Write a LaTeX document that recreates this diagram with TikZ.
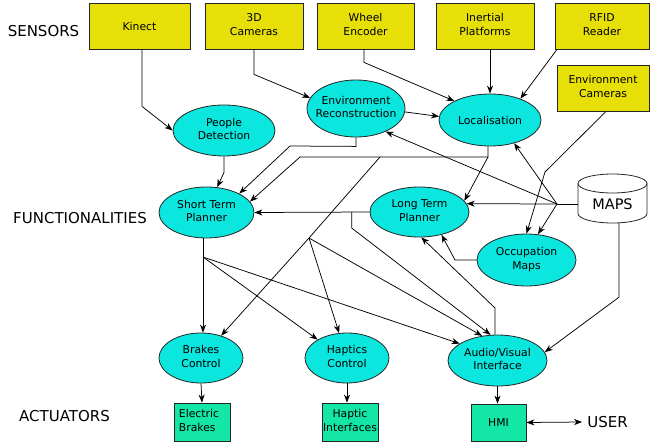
\documentclass[tikz,border=0pt]{standalone}
\usepackage{fontspec}
\setmainfont{DejaVu Sans}
\usetikzlibrary{arrows.meta,calc,shapes.geometric}
\definecolor{sensY}{RGB}{231,224,8}
\definecolor{funC}{RGB}{11,230,222}
\definecolor{actG}{RGB}{20,230,165}
\newcommand\twoline[1]{\makebox[0pt]{\begin{tabular}{@{}c@{}}#1\end{tabular}}}
\newcommand\nodefnt{\fontsize{10.8}{13.5}\selectfont}
\newcommand\lblfnt{\fontsize{15}{18}\selectfont}
\tikzset{
  sensor/.style={draw=black!85, line width=0.8pt, fill=sensY, minimum height=46pt, inner sep=0pt, font=\nodefnt},
  ell/.style={ellipse, draw=black!85, line width=0.8pt, fill=funC, inner sep=0pt, font=\nodefnt},
  act/.style={draw=black!85, line width=0.8pt, fill=actG, minimum width=56pt, minimum height=38pt, inner sep=0pt, font=\nodefnt},
  lbl/.style={font=\lblfnt, inner sep=0pt},
  conn/.style={line width=0.75pt, black},
  arr/.style={conn, -{Stealth[length=8pt,width=6pt,inset=2.5pt]}},
  arrs/.style={conn, {Stealth[length=8pt,width=6pt,inset=2.5pt]}-{Stealth[length=8pt,width=6pt,inset=2.5pt]}}
}
\begin{document}
\begin{tikzpicture}[x=1pt,y=-1pt]
\useasboundingbox (0,0) rectangle (650,444);
% labels
\node[lbl] (lsens) at (43.5,31) {SENSORS};
\node[lbl] (lfunc) at (80,218) {FUNCTIONALITIES};
\node[lbl] (lact) at (64.5,416) {ACTUATORS};
\node[lbl, inner xsep=5pt] (user) at (607.5,422) {USER};
% sensors
\node[sensor, minimum width=101pt] (kin) at (139.5,26) {Kinect};
\node[sensor, minimum width=98pt] (cam3) at (254,26) {\twoline{3D\\Cameras}};
\node[sensor, minimum width=97pt] (whe) at (365.5,26) {\twoline{Wheel\\Encoder}};
\node[sensor, minimum width=98pt] (ine) at (485,26) {\twoline{Inertial\\Platforms}};
\node[sensor, minimum width=94pt] (rfid) at (602,26) {\twoline{RFID\\Reader}};
\node[sensor, minimum width=92pt] (envc) at (603,88) {\twoline{Environment\\Cameras}};
% functionalities
\node[ell, minimum width=102pt, minimum height=51pt] (pd) at (224,130.5) {\twoline{People\\Detection}};
\node[ell, minimum width=98pt, minimum height=57pt] (er) at (356,108.5) {\twoline{Environment\\Reconstruction}};
\node[ell, minimum width=102pt, minimum height=52pt] (loc) at (490,120) {Localisation};
\node[ell, minimum width=95pt, minimum height=51pt] (stp) at (206.5,212.5) {\twoline{Short Term\\Planner}};
\node[ell, minimum width=99pt, minimum height=50pt] (ltp) at (419.5,212) {\twoline{Long Term\\Planner}};
\node[ell, minimum width=99pt, minimum height=52pt] (om) at (526.5,260) {\twoline{Occupation\\Maps}};
\node[ell, minimum width=84pt, minimum height=50pt] (bc) at (201,358) {\twoline{Brakes\\Control}};
\node[ell, minimum width=84pt, minimum height=50pt] (hc) at (347,358) {\twoline{Haptics\\Control}};
\node[ell, minimum width=99pt, minimum height=51pt] (av) at (497.5,360.5) {\twoline{Audio/Visual\\Interface}};
% maps cylinder
\filldraw[fill=white, draw=black!85, line width=0.8pt] (578,183.5) -- (578,213.5)
  arc[start angle=180, end angle=360, x radius=34.5pt, y radius=9.5pt] -- (647,183.5)
  arc[start angle=0, end angle=180, x radius=34.5pt, y radius=9.5pt] -- cycle;
\draw[draw=black!85, line width=0.8pt] (578,183.5) arc[start angle=180, end angle=360, x radius=34.5pt, y radius=9.5pt];
\node[lbl, minimum width=69pt, minimum height=38pt, font=\fontsize{14.5}{17}\selectfont] (maps) at (612.5,204) {MAPS};
% actuators
\node[act] (eb) at (202,422) {\makebox[0pt]{\hspace*{-6pt}\begin{tabular}{@{}l@{}}Electric\\Brakes\end{tabular}}};
\node[act] (hi) at (350,422) {\twoline{Haptic\\Interfaces}};
\node[act, minimum width=55pt, minimum height=37pt] (hmi) at (498.5,422.5) {HMI};
% junctions
\coordinate (lj) at (488,157);
\coordinate (lh) at (380,157);
\coordinate (lfork) at (309,238);
\coordinate (sfork) at (203,257);
\coordinate (mj) at (557,204);
\coordinate (lb) at ($(ltp.west)!0.155!(stp.east)$);
% sensor connectors
\draw[arr] ([xshift=2.5pt]kin.south) -- ++(0,57) -- (pd.west);
\draw[arr] (cam3.south) -- ++(0,25) -- (er.167);
\draw[arr] ([xshift=-1.5pt]whe.south) -- ++(0,13) -- (loc.152);
\draw[arr] (ine.south -| loc.north) -- (loc.north);
\draw[arr] ([xshift=-45pt]rfid.south) -- (loc.35);
\draw[arr] ([xshift=3pt]envc.south) -- (545,172) -- (om.north);
% functionality connectors
\draw[arr] (er.-4) -- (loc.176);
\draw[arr] (pd.south) -- ++(0,16) -- (stp.67);
\draw[arr] (er.south) -- ++(0,9) -- (290,146) -- (stp.30);
\draw[arr] (loc.south -| lj) -- (lj) -- (300,157) -- (stp.14);
\draw[arr] (lj) -- (ltp.14);
\draw[arr] (lh) -- (lfork) -- (bc);
\draw[arr] (lfork) -- (hc);
\draw[arr] (lfork) -- (av.122);
\draw[conn] (stp.south -| sfork) -- (sfork);
\draw[arr] (sfork) -- (sfork |- bc.north);
\draw[arr] (sfork) -- (hc.148);
\draw[arr] (sfork) -- (av.156);
\draw[arr] (ltp.west) -- (stp.east);
\draw[arr] (lb) -- ++(0,16) -- (av.105);
\draw[arr] ([xshift=-2.5pt]av.north) -- (495,308) -- (ltp.-86);
\draw[arr] (om.west) -- (455,260) -- (ltp.-46);
\draw[conn] (maps.west) -- (mj);
\draw[arr] (mj) -- (ltp.10);
\draw[arr] (mj) -- (loc.-44);
\draw[arr] (mj) -- (er.-38);
\draw[arr] (mj) -- (om.66);
\draw[arr] ([xshift=6.5pt]maps.south) -- ++(0,74) -- (av.10);
% actuator connectors
\draw[arr] (bc.south) -- (eb.north);
\draw[arr] (hc.south) -- (hc.south |- hi.north);
\draw[arr] (av.south) -- (av.south |- hmi.north);
\draw[arrs] (hmi.east) -- (user.west);
\end{tikzpicture}
\end{document}
